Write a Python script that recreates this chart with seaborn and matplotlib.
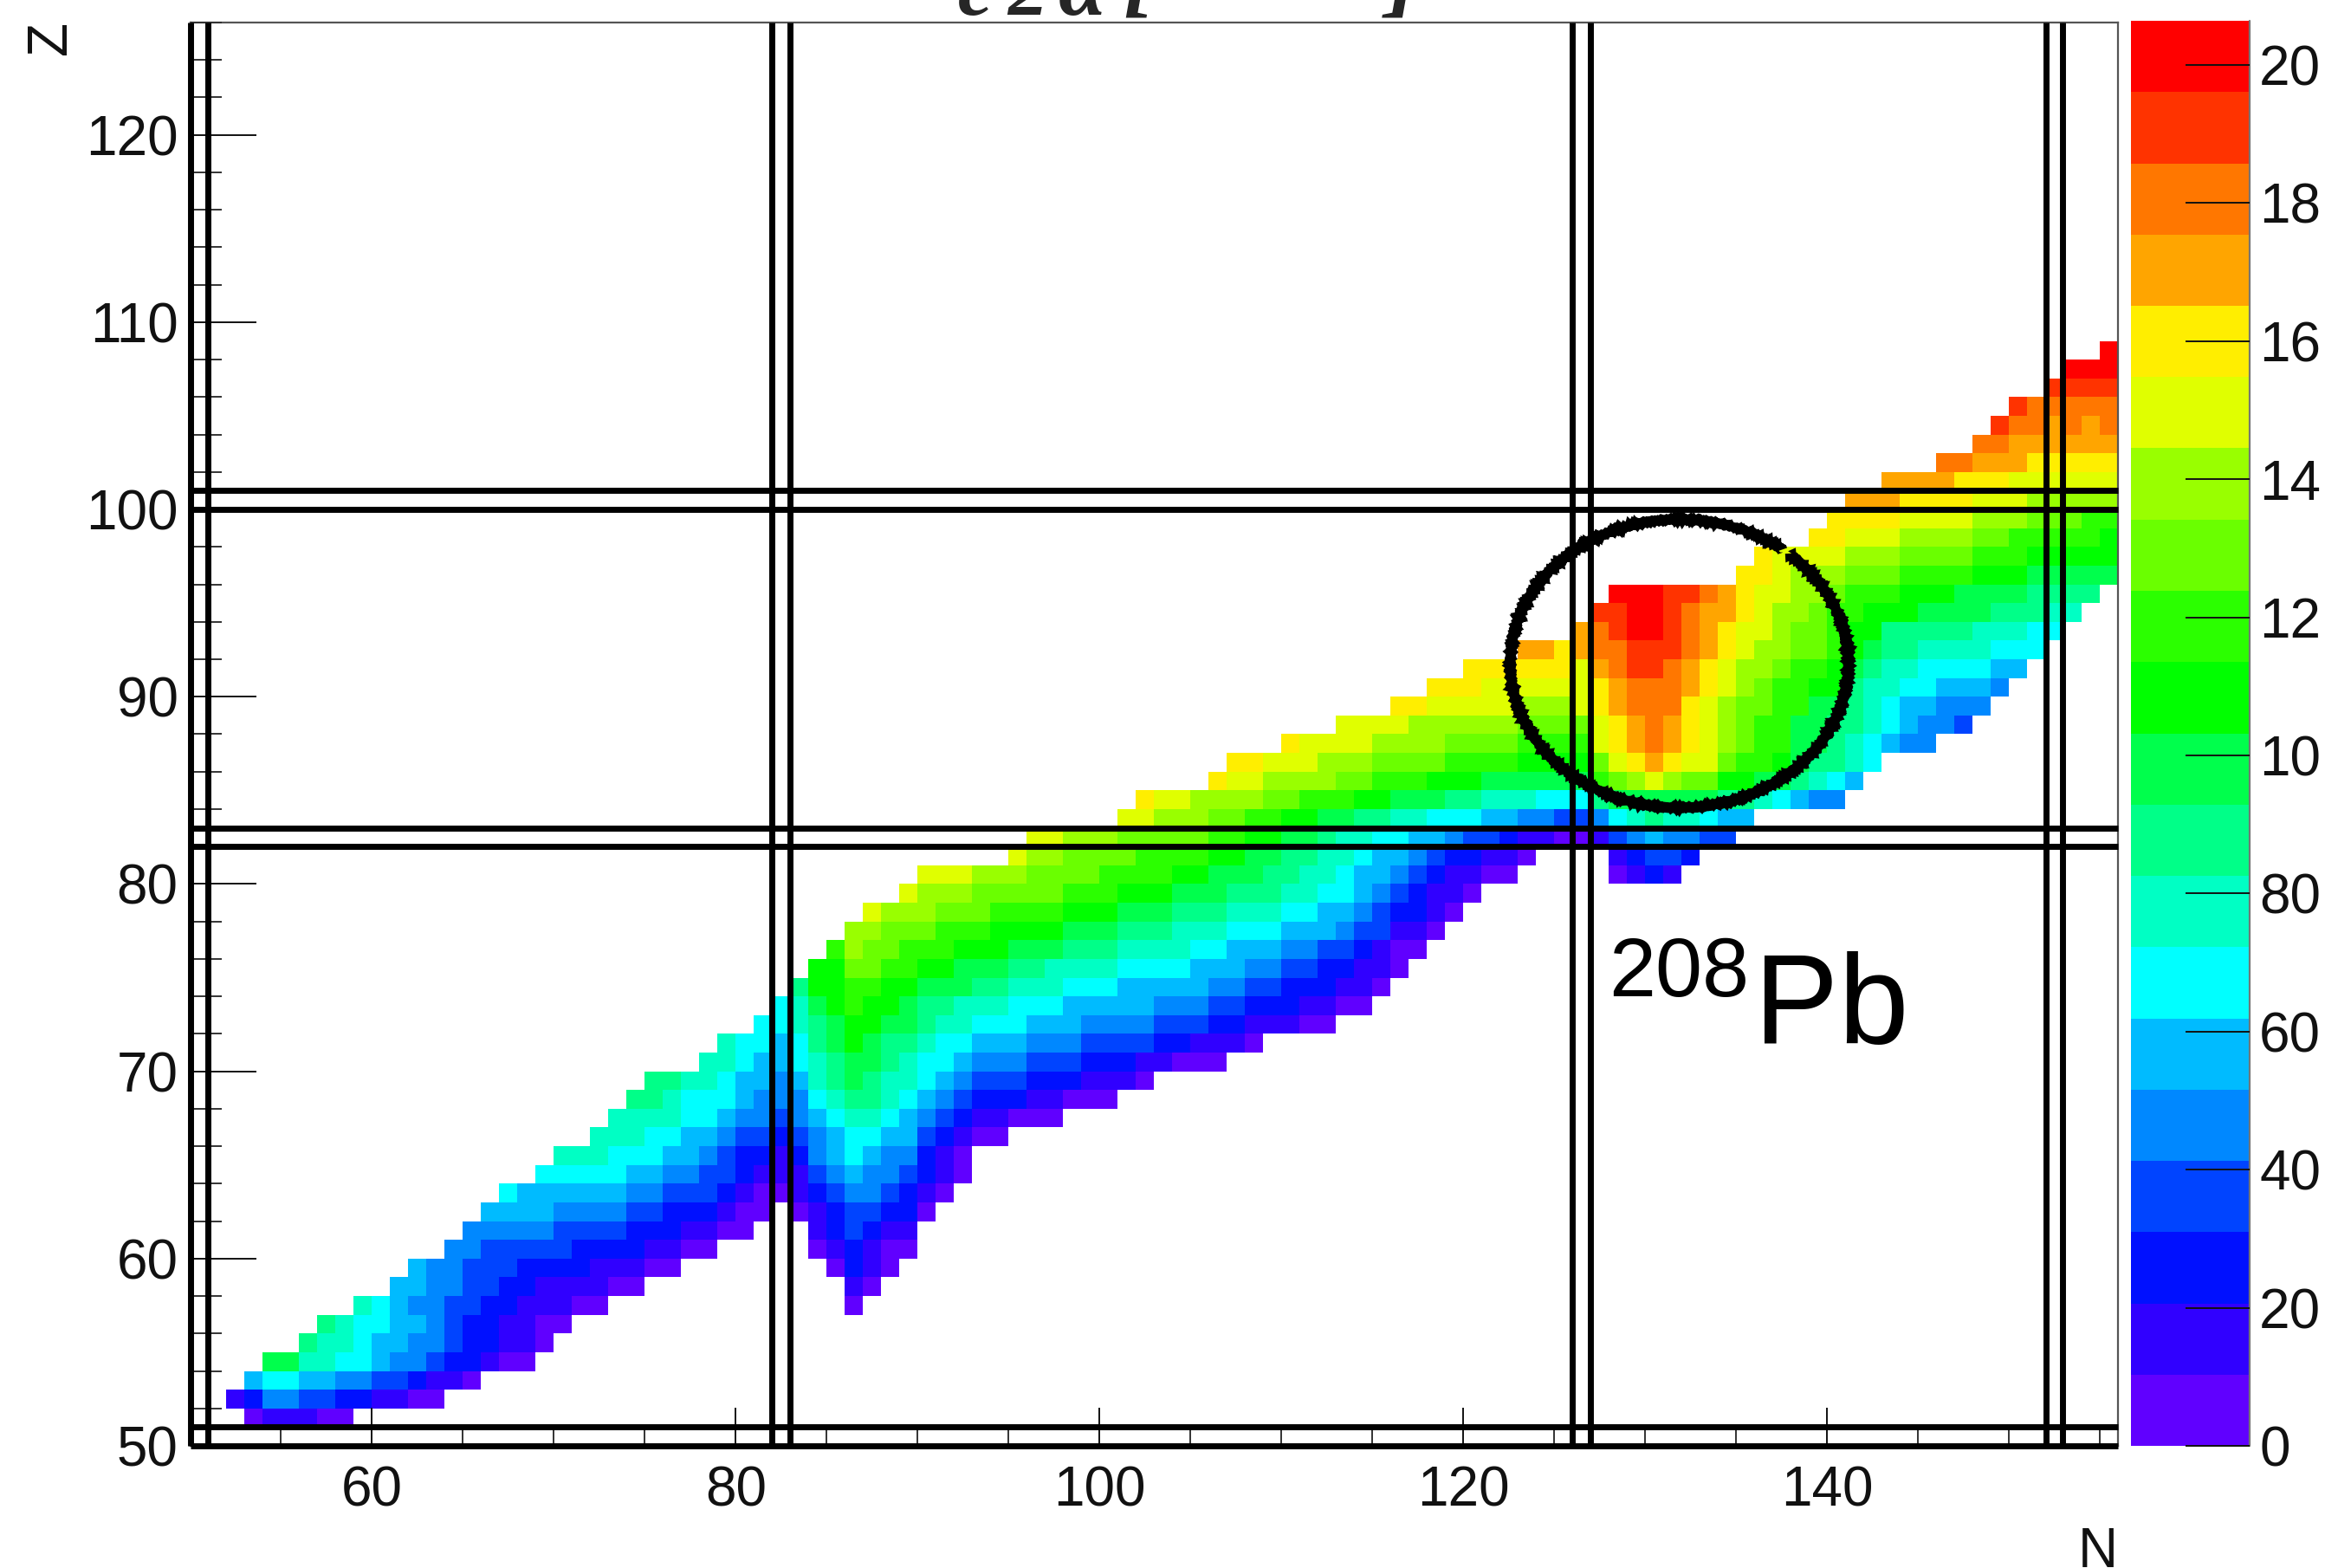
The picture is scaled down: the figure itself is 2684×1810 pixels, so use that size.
import numpy as np
import pandas as pd
import matplotlib
matplotlib.use('Agg')
import matplotlib.pyplot as plt
import seaborn as sns
from matplotlib.colors import ListedColormap
from matplotlib.patches import Arc

# Colour bands, bottom to top of the palette
band_colors = ['#6000ff', '#3000ff', '#0010ff', '#0044ff', '#0088ff', '#00bbff', '#00ffff',
               '#00ffc4', '#00ff88', '#00ff4c', '#00ff00', '#2bff00', '#6aff00', '#99ff00',
               '#e0ff00', '#ffee00', '#ffa500', '#ff7700', '#ff3300', '#ff0000']
value_max = 20.64

# Axis ranges and ticks
n_min, n_max = 50, 156
z_min, z_max = 50, 126
n_major = [60, 80, 100, 120, 140]
z_major = [50, 60, 70, 80, 90, 100, 110, 120]
cbar_ticks = [0, 2, 4, 6, 8, 10, 12, 14, 16, 18, 20]
cbar_labels = ['0', '20', '40', '60', '80', '10', '12', '14', '16', '18', '20']

# Magic numbers drawn as double lines
magic_n = [50, 51, 82, 83, 126, 127, 152.05, 152.93]
magic_z = [50, 51, 82, 83, 100, 101]

# Each row: Z, first N, then (colour band, number of cells); None is an empty stretch
rows = [
    (51, 53, [(0, 1), (1, 3), (0, 2)]),
    (52, 52, [(1, 1), (2, 1), (4, 2), (3, 2), (2, 2), (1, 2), (0, 2)]),
    (53, 53, [(5, 1), (6, 2), (5, 2), (4, 2), (3, 2), (2, 1), (1, 2), (0, 1)]),
    (54, 54, [(9, 2), (7, 2), (6, 2), (5, 1), (4, 2), (3, 1), (2, 2), (1, 1), (0, 2)]),
    (55, 56, [(8, 1), (7, 2), (6, 1), (5, 2), (4, 2), (3, 1), (2, 2), (1, 2), (0, 1)]),
    (56, 57, [(8, 1), (7, 1), (6, 2), (5, 2), (4, 1), (3, 1), (2, 2), (1, 2), (0, 2)]),
    (57, 59, [(7, 1), (6, 1), (5, 1), (4, 2), (3, 2), (2, 2), (1, 3), (0, 2), (None, 13), (0, 1)]),
    (58, 61, [(5, 2), (4, 2), (3, 2), (2, 2), (1, 4), (0, 2), (None, 11), (1, 1), (0, 1)]),
    (59, 62, [(5, 1), (4, 2), (3, 3), (2, 4), (1, 3), (0, 2), (None, 8), (0, 1), (2, 1), (1, 1), (0, 1)]),
    (60, 64, [(4, 2), (3, 5), (2, 4), (1, 2), (0, 2), (None, 5), (0, 1), (1, 1), (2, 1), (1, 1), (0, 2)]),
    (61, 65, [(4, 5), (3, 4), (2, 3), (1, 2), (0, 2), (None, 3), (1, 1), (2, 1), (3, 1), (2, 1), (1, 2)]),
    (62, 66, [(5, 4), (4, 4), (3, 2), (2, 3), (1, 1), (0, 2), (None, 1), (0, 1), (1, 1), (2, 1), (3, 2), (2, 2), (0, 1)]),
    (63, 67, [(6, 1), (5, 6), (4, 2), (3, 3), (2, 1), (1, 1), (0, 2), (1, 1), (2, 1), (3, 1), (4, 2), (3, 1), (2, 1), (1, 1), (0, 1)]),
    (64, 69, [(6, 5), (5, 2), (4, 2), (3, 2), (2, 1), (1, 3), (3, 1), (4, 1), (5, 1), (4, 2), (3, 1), (2, 1), (1, 1), (0, 1)]),
    (65, 70, [(7, 3), (6, 3), (5, 2), (4, 1), (3, 1), (2, 2), (1, 1), (2, 1), (4, 1), (5, 1), (6, 1), (5, 1), (4, 2), (2, 1), (1, 1), (0, 1)]),
    (66, 72, [(7, 3), (6, 2), (5, 2), (4, 1), (3, 2), (2, 1), (3, 1), (4, 1), (5, 1), (6, 2), (5, 2), (3, 1), (2, 1), (1, 1), (0, 2)]),
    (67, 73, [(7, 4), (6, 2), (5, 1), (4, 2), (3, 1), (4, 1), (5, 1), (6, 1), (7, 2), (6, 1), (5, 1), (4, 1), (3, 1), (2, 1), (1, 2), (0, 3)]),
    (68, 74, [(8, 2), (7, 1), (6, 3), (5, 1), (4, 3), (6, 1), (7, 1), (8, 2), (7, 1), (6, 1), (5, 1), (4, 1), (3, 1), (2, 3), (1, 2), (0, 3)]),
    (69, 75, [(8, 2), (7, 2), (6, 1), (5, 2), (4, 1), (5, 1), (7, 1), (8, 1), (9, 1), (8, 1), (7, 2), (6, 1), (5, 1), (4, 1), (3, 3), (2, 3), (1, 3), (0, 1)]),
    (70, 78, [(7, 2), (6, 1), (5, 2), (6, 1), (7, 1), (8, 1), (9, 2), (8, 1), (7, 1), (6, 2), (5, 1), (4, 3), (3, 3), (2, 3), (1, 2), (0, 3)]),
    (71, 79, [(7, 1), (6, 2), (5, 1), (6, 1), (8, 1), (9, 1), (10, 1), (9, 1), (8, 2), (7, 1), (6, 2), (5, 3), (4, 3), (3, 4), (2, 2), (1, 3), (0, 1)]),
    (72, 81, [(6, 2), (7, 1), (8, 1), (9, 1), (10, 2), (9, 2), (8, 1), (7, 2), (6, 3), (5, 3), (4, 4), (3, 3), (2, 2), (1, 3), (0, 2)]),
    (73, 82, [(6, 1), (7, 1), (9, 1), (10, 1), (11, 1), (10, 2), (9, 1), (8, 2), (7, 3), (6, 3), (5, 5), (4, 3), (3, 2), (2, 3), (1, 2), (0, 2)]),
    (74, 83, [(8, 1), (10, 2), (11, 2), (10, 2), (9, 3), (8, 2), (7, 3), (6, 3), (5, 5), (4, 2), (3, 2), (2, 3), (1, 2), (0, 1)]),
    (75, 84, [(10, 2), (12, 2), (11, 2), (10, 2), (9, 3), (8, 2), (7, 4), (6, 4), (5, 3), (4, 2), (3, 2), (2, 2), (1, 2), (0, 1)]),
    (76, 85, [(11, 1), (13, 1), (12, 2), (11, 3), (10, 3), (9, 3), (8, 3), (7, 4), (6, 2), (5, 3), (4, 2), (3, 2), (2, 1), (1, 1), (0, 2)]),
    (77, 86, [(13, 2), (12, 3), (11, 3), (10, 4), (9, 3), (8, 3), (7, 3), (6, 3), (5, 3), (4, 1), (3, 2), (1, 2), (0, 1)]),
    (78, 87, [(14, 1), (13, 3), (12, 3), (11, 4), (10, 3), (9, 3), (8, 3), (7, 3), (6, 2), (5, 2), (4, 1), (3, 1), (2, 2), (1, 1), (0, 1)]),
    (79, 89, [(14, 1), (13, 3), (12, 5), (11, 3), (10, 3), (9, 3), (8, 3), (7, 2), (6, 2), (5, 1), (4, 1), (3, 1), (2, 1), (1, 2), (0, 1)]),
    (80, 90, [(14, 3), (13, 3), (12, 4), (11, 4), (10, 2), (9, 3), (8, 2), (7, 2), (6, 1), (5, 2), (4, 1), (3, 1), (2, 1), (1, 2), (0, 2), (None, 5), (0, 1), (1, 1), (2, 1), (1, 1)]),
    (81, 95, [(14, 1), (13, 2), (12, 4), (11, 4), (10, 2), (9, 2), (8, 2), (7, 2), (6, 1), (5, 2), (4, 1), (3, 1), (2, 2), (1, 2), (0, 1), (None, 4), (1, 1), (2, 1), (3, 2), (2, 1)]),
    (82, 96, [(14, 2), (13, 3), (12, 5), (11, 2), (10, 2), (9, 2), (8, 1), (7, 2), (6, 2), (5, 2), (4, 1), (3, 2), (2, 1), (1, 2), (0, 2), (1, 1), (3, 1), (4, 1), (5, 1), (4, 2), (3, 2)]),
    (83, 101, [(14, 2), (13, 3), (12, 2), (11, 2), (10, 2), (9, 2), (8, 2), (7, 2), (6, 3), (5, 2), (4, 2), (3, 2), (4, 1), (6, 1), (7, 1), (8, 1), (7, 2), (6, 1), (5, 2)]),
    (84, 102, [(15, 1), (14, 2), (13, 4), (12, 2), (11, 3), (10, 2), (9, 3), (8, 2), (7, 3), (6, 3), (8, 1), (9, 6), (8, 2), (7, 1), (6, 1), (5, 1), (4, 2)]),
    (85, 106, [(15, 1), (14, 2), (13, 4), (12, 2), (11, 3), (10, 3), (9, 6), (11, 1), (12, 1), (13, 1), (14, 1), (13, 1), (12, 2), (10, 2), (9, 2), (8, 1), (7, 1), (6, 1), (5, 1)]),
    (86, 107, [(15, 2), (14, 3), (13, 3), (12, 4), (11, 4), (10, 4), (12, 1), (14, 1), (15, 1), (16, 1), (15, 1), (14, 2), (12, 1), (11, 2), (10, 1), (9, 1), (8, 2), (7, 1), (6, 1)]),
    (87, 110, [(15, 1), (14, 4), (13, 4), (12, 4), (11, 4), (14, 1), (15, 1), (16, 1), (17, 1), (16, 1), (15, 1), (14, 1), (13, 1), (12, 1), (11, 2), (9, 2), (8, 1), (7, 1), (6, 1), (5, 1), (4, 2)]),
    (88, 113, [(14, 4), (13, 6), (12, 4), (14, 1), (15, 1), (16, 1), (17, 1), (16, 1), (15, 1), (14, 1), (13, 1), (12, 1), (11, 2), (9, 2), (8, 2), (7, 1), (6, 1), (5, 1), (4, 2), (3, 1)]),
    (89, 116, [(15, 2), (14, 5), (13, 3), (14, 1), (15, 1), (16, 1), (17, 3), (15, 1), (14, 1), (13, 1), (12, 2), (11, 2), (9, 2), (8, 1), (7, 1), (6, 1), (5, 2), (4, 3)]),
    (90, 118, [(15, 3), (14, 6), (15, 1), (16, 1), (17, 3), (16, 1), (15, 1), (14, 1), (13, 1), (12, 1), (11, 2), (10, 2), (8, 1), (7, 2), (6, 2), (5, 3), (4, 1)]),
    (91, 120, [(15, 6), (14, 1), (16, 1), (17, 1), (18, 2), (17, 1), (16, 1), (15, 1), (14, 1), (13, 2), (12, 1), (11, 2), (10, 1), (9, 1), (8, 1), (7, 2), (6, 4), (5, 2)]),
    (92, 123, [(16, 2), (15, 1), (16, 1), (17, 2), (18, 3), (17, 1), (16, 1), (15, 1), (14, 1), (13, 2), (12, 2), (11, 1), (10, 1), (9, 1), (8, 2), (7, 4), (6, 3)]),
    (93, 126, [(16, 1), (17, 1), (18, 1), (19, 2), (18, 1), (17, 1), (16, 1), (15, 1), (14, 2), (13, 1), (12, 2), (11, 1), (10, 2), (8, 5), (7, 3), (6, 2)]),
    (94, 127, [(18, 2), (19, 2), (18, 1), (17, 1), (16, 2), (15, 1), (14, 1), (13, 2), (12, 1), (11, 2), (10, 3), (9, 4), (8, 3), (7, 2)]),
    (95, 128, [(19, 3), (18, 2), (17, 1), (16, 1), (15, 1), (14, 2), (13, 2), (12, 1), (11, 3), (10, 3), (9, 4), (8, 4)]),
    (96, 135, [(15, 2), (14, 1), (13, 3), (12, 3), (11, 4), (10, 3), (9, 5)]),
    (97, 136, [(15, 1), (14, 4), (13, 3), (12, 4), (11, 3), (10, 5)]),
    (98, 139, [(15, 2), (14, 3), (13, 4), (12, 2), (11, 5), (10, 1)]),
    (99, 140, [(15, 4), (14, 4), (13, 3), (12, 3), (11, 2)]),
    (100, 141, [(16, 3), (15, 4), (14, 3), (13, 5)]),
    (101, 143, [(16, 4), (15, 3), (14, 6)]),
    (102, 146, [(17, 2), (16, 3), (15, 5)]),
    (103, 148, [(17, 2), (16, 6)]),
    (104, 149, [(18, 1), (17, 2), (16, 1), (17, 1), (16, 1), (17, 1)]),
    (105, 150, [(18, 1), (17, 5)]),
    (106, 152, [(18, 4)]),
    (107, 153, [(19, 3)]),
    (108, 155, [(19, 1)]),
]

sns.set_theme(style='white')
plt.rcParams['font.family'] = ['Liberation Sans', 'DejaVu Sans']

# Build the table, one cell per (N, Z)
band_width = value_max / len(band_colors)
grid = pd.DataFrame(np.nan, index=range(z_min, z_max), columns=range(n_min, n_max))
for z, first_n, runs in rows:
    n = first_n
    for band, count in runs:
        if band is not None:
            grid.loc[z, n:n + count - 1] = (band + 0.5) * band_width
        n += count

W, H = 2684, 1810
fig = plt.figure(figsize=(W / 200, H / 200), dpi=200)
ax = fig.add_axes([219.5 / W, (H - 1669) / H, 2225.5 / W, 1643 / H])
cax = fig.add_axes([2460 / W, (H - 1669) / H, 137 / W, 1645 / H])

sns.heatmap(grid, ax=ax, cbar_ax=cax, cmap=ListedColormap(band_colors), vmin=0, vmax=value_max,
            xticklabels=False, yticklabels=False)
ax.set_xlim(0, n_max - n_min)
ax.set_ylim(0, z_max - z_min)
ax.set_axisbelow(False)


def nx(n):
    return n - n_min


def zy(z):
    return z - z_min


# Ticks, ROOT style: inside the frame
ax.set_xticks([nx(n) for n in n_major])
ax.set_xticklabels([str(n) for n in n_major])
ax.set_yticks([zy(z) for z in z_major])
ax.set_yticklabels([str(z) for z in z_major])
ax.set_xticks([nx(n) for n in range(55, n_max, 5) if n not in n_major], minor=True)
ax.set_yticks([zy(z) for z in range(z_min, z_max + 1, 2) if z not in z_major], minor=True)
ax.tick_params(axis='x', which='major', direction='in', bottom=True, length=16, width=0.7,
               color='#111111', labelsize=23, labelcolor='#111111', pad=8)
ax.tick_params(axis='y', which='major', direction='in', left=True, length=27.5, width=0.7,
               color='#111111', labelsize=23, labelcolor='#111111', pad=5)
ax.tick_params(axis='x', which='minor', direction='in', bottom=True, length=8, width=0.7, color='#333333')
ax.tick_params(axis='y', which='minor', direction='in', left=True, length=13, width=0.7, color='#333333')

for spine in ax.spines.values():
    spine.set_visible(True)
    spine.set_color('#555555')
    spine.set_linewidth(0.8)

# Double lines at the magic numbers
for n in magic_n:
    ax.axvline(nx(n), color='black', lw=2.5, solid_capstyle='butt', clip_on=False, zorder=5)
for z in magic_z:
    ax.axhline(zy(z), color='black', lw=2.5, solid_capstyle='butt', clip_on=False, zorder=5)

# Hand drawn ring around the island
ring = Arc((nx(131.88), zy(91.77)), 18.6, 15.4, theta1=47, theta2=404, color='black', lw=3.9, zorder=6)
ring.set_sketch_params(scale=0.9, length=3, randomness=2)
ax.add_patch(ring)

# Nucleus label
ax.text(nx(128.0), zy(74.0), '208', fontsize=35, color='black', va='baseline', ha='left', zorder=7)
ax.text(nx(136.0), zy(71.5), 'Pb', fontsize=52.5, color='black', va='baseline', ha='left', zorder=7)

# Axis titles
ax.set_xlabel('N', fontsize=23, color='#111111', ha='right', va='top')
ax.xaxis.set_label_coords(1.0, -0.0566)
ax.set_ylabel('Z', fontsize=23, color='#111111', rotation=90, ha='center', va='center')
ax.yaxis.set_label_coords(-0.072, 0.9896)

# Colour bar
cbar = ax.collections[0].colorbar
cbar.set_ticks(cbar_ticks)
cbar.set_ticklabels(cbar_labels)
cbar.outline.set_visible(False)
cbar.ax.set_axisbelow(False)
cbar.ax.tick_params(which='major', direction='in', right=True, length=26.5, width=0.7, color='#111111',
                    labelsize=23, labelcolor='#111111', pad=4)
cbar.ax.minorticks_off()
cbar.ax.axvline(1, color='#777777', lw=0.8, clip_on=False)

# What is left of the title, cut by the top edge of the figure
serif = dict(family='Liberation Serif', style='italic', weight='bold', va='baseline', ha='left')
fig.text(1105 / W, (H - 17) / H, 'e', fontsize=33, **serif)
fig.text(1163 / W, (H - 17) / H, '2', fontsize=33, **serif)
fig.text(1222 / W, (H - 17) / H, 'α', fontsize=36, **serif)
fig.text(1296 / W, (H - 6) / H, '[', fontsize=40, **serif)
fig.text(1601 / W, (H - 6) / H, ']', fontsize=40, **serif)

plt.savefig('out.png', dpi=200)
plt.close()
